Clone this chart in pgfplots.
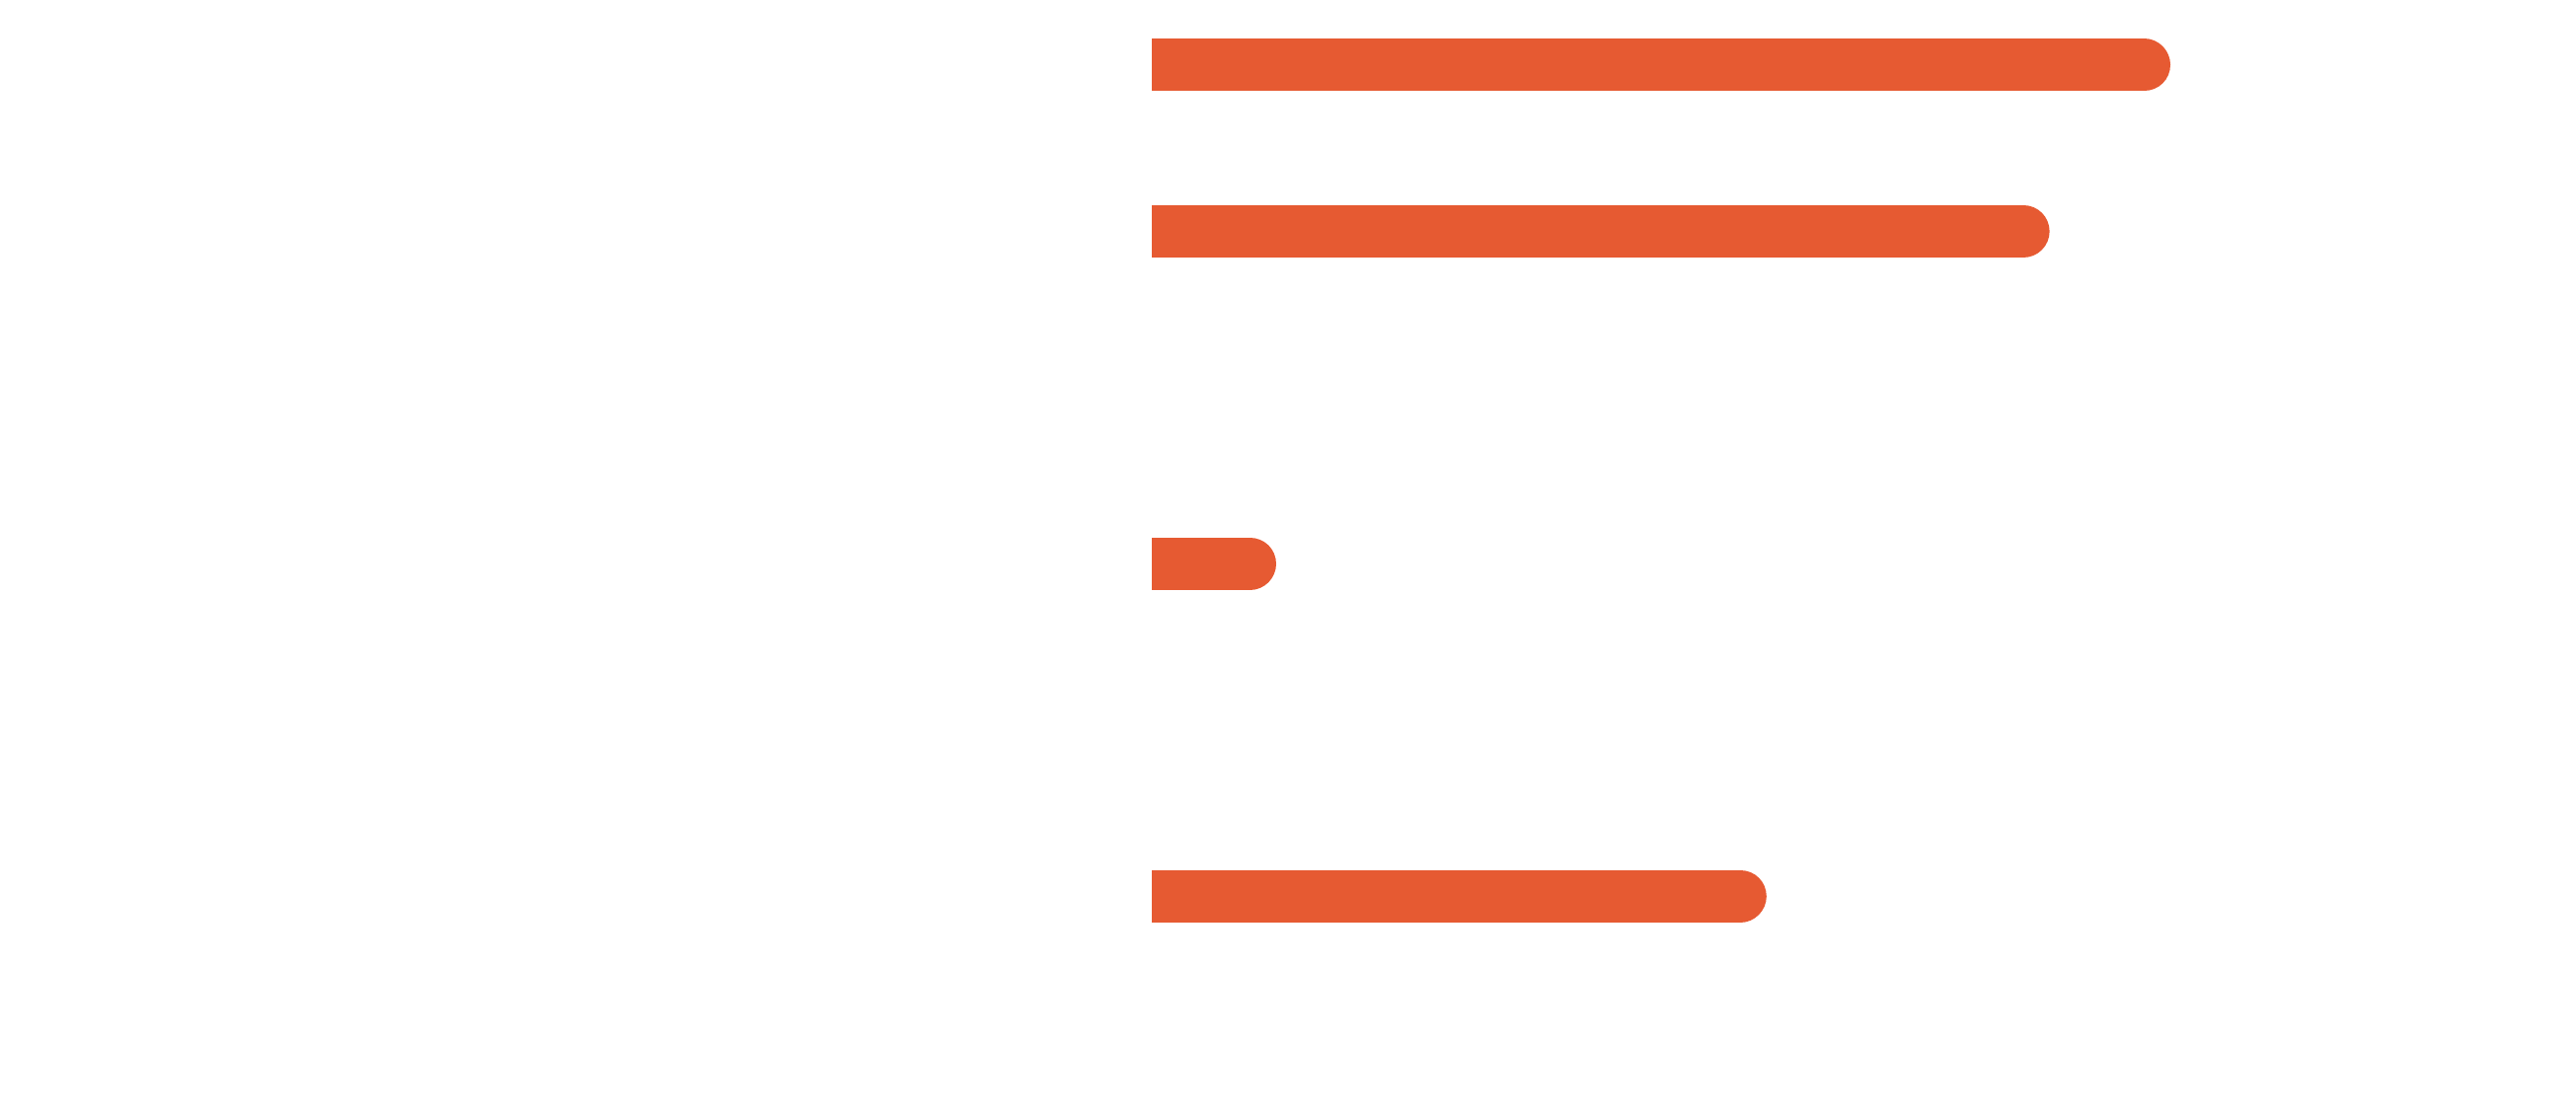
\documentclass[border=0pt]{standalone}
\usepackage{pgfplots}
\pgfplotsset{compat=1.18}
\definecolor{barorange}{HTML}{E65A32}
\begin{document}
\begin{tikzpicture}
\useasboundingbox (0,0) rectangle (652.5pt,282.5pt);
\begin{axis}[
  at={(291.75pt,0pt)}, anchor=south west,
  scale only axis,
  width=360.75pt, height=282.5pt,
  xmin=0, xmax=120.25,
  ymin=-0.392, ymax=6.318,
  y dir=reverse,
  hide axis,
  clip=true,
  barstyle/.style={draw=barorange, line width=13.25pt, line cap=round, shorten >=6.625pt, no markers},
]
\addplot[barstyle] coordinates {(0,0) (86,0)};
\addplot[barstyle] coordinates {(0,1) (75.8,1)};
\addplot[barstyle] coordinates {(0,3) (10.5,3)};
\addplot[barstyle] coordinates {(0,5) (51.9,5)};
\end{axis}
\end{tikzpicture}
\end{document}
